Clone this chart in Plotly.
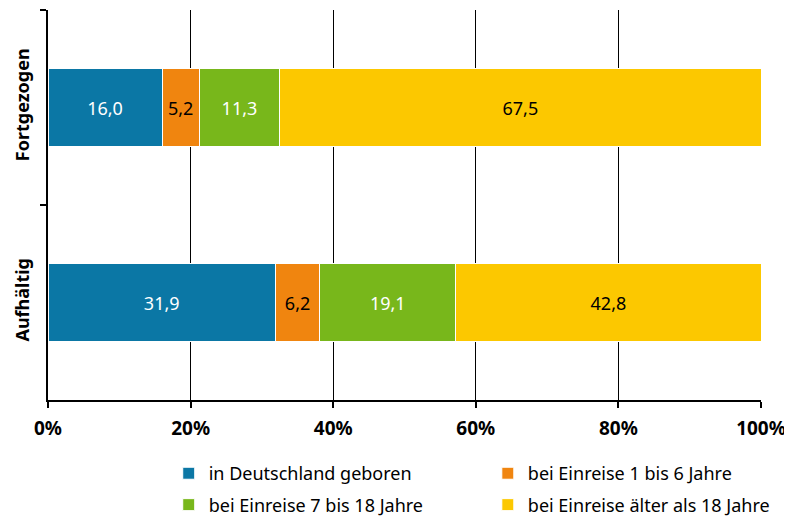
import plotly.graph_objects as go

categories = ["Fortgezogen", "Aufhältig"]
series_names = [
    "in Deutschland geboren",
    "bei Einreise 1 bis 6 Jahre",
    "bei Einreise 7 bis 18 Jahre",
    "bei Einreise älter als 18 Jahre",
]
geboren = [16.0, 31.9]
einreise_1_6 = [5.2, 6.2]
einreise_7_18 = [11.3, 19.1]
einreise_ueber_18 = [67.5, 42.8]
x_ticks = [0, 20, 40, 60, 80, 100]
x_tick_labels = [f"{v}%" for v in x_ticks]

colors = ["#0b77a5", "#f0850f", "#78b71b", "#fcc800"]
text_colors = ["white", "black", "white", "black"]
legend_ids = ["legend", "legend2", "legend", "legend2"]
values = [geboren, einreise_1_6, einreise_7_18, einreise_ueber_18]

FONT = "Noto Sans"

fig = go.Figure()
for name, vals, color, tcolor, leg in zip(
    series_names, values, colors, text_colors, legend_ids
):
    fig.add_trace(
        go.Bar(
            y=categories,
            x=vals,
            name=name,
            orientation="h",
            legend=leg,
            legendgroup=name,
            marker={"color": color, "line": {"color": "white", "width": 1}},
            texttemplate="%{x:.1f}",
            textposition="inside",
            insidetextanchor="middle",
            textangle=0,
            textfont={"color": tcolor, "size": 18, "family": FONT},
            hoverinfo="x+name",
        )
    )

# the page body adds an 8px offset, so the figure is 8px smaller each way
legend_style = {
    "orientation": "v",
    "xref": "container",
    "yref": "container",
    "y": 0.120,
    "yanchor": "top",
    "xanchor": "left",
    "traceorder": "grouped",
    "tracegroupgap": 5,
    "font": {"size": 18, "family": FONT},
    "bgcolor": "rgba(0,0,0,0)",
}

fig.update_layout(
    barmode="stack",
    bargap=0.6,
    separators=",.",
    width=784,
    height=508,
    paper_bgcolor="white",
    plot_bgcolor="white",
    font={"family": FONT, "size": 18, "color": "black"},
    margin={"l": 40, "r": 31, "t": 2, "b": 116, "autoexpand": False},
    xaxis={
        "range": [0, 100],
        "tickvals": x_ticks,
        "ticktext": x_tick_labels,
        "showgrid": True,
        "gridcolor": "black",
        "gridwidth": 1,
        "showline": True,
        "linecolor": "black",
        "linewidth": 2,
        "ticks": "outside",
        "ticklen": 6,
        "tickwidth": 2,
        "tickcolor": "black",
        "ticklabelstandoff": 4,
        "tickfont": {"size": 19, "family": FONT, "weight": "bold"},
        "zeroline": False,
    },
    yaxis={
        "autorange": "reversed",
        "tickson": "boundaries",
        "ticks": "outside",
        "ticklen": 6,
        "tickwidth": 2,
        "tickcolor": "black",
        "ticklabelstandoff": 10,
        "showline": True,
        "linecolor": "black",
        "linewidth": 2,
        "showgrid": False,
        "tickangle": -90,
        "tickfont": {"size": 18, "family": FONT, "weight": "bold"},
    },
    legend={**legend_style, "x": 0.205},
    legend2={**legend_style, "x": 0.612},
)

fig.write_html("out.html")
